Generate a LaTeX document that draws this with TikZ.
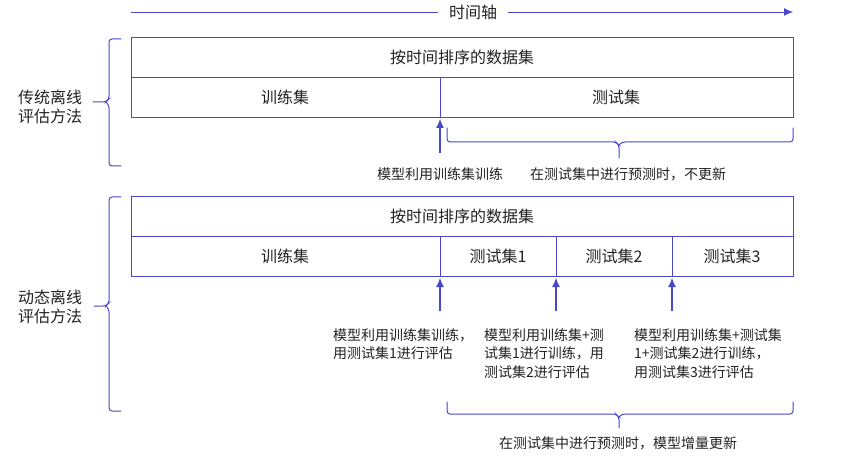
\documentclass[tikz,border=0pt]{standalone}
\usepackage{fontspec}
\setmainfont{Noto Sans CJK SC}
\usetikzlibrary{arrows.meta}
\definecolor{lineblue}{RGB}{72,72,200}
\definecolor{txt}{RGB}{34,34,34}
\begin{document}
\begin{tikzpicture}[x=1pt,y=-1pt,
  frame/.style={draw=lineblue, line width=0.9pt},
  cell/.style={text=txt, font=\fontsize{16}{19}\selectfont},
  note/.style={text=txt, font=\fontsize{14}{18.5}\selectfont, align=left, inner sep=0pt},
  up/.style={lineblue, line width=1.1pt, -{Latex[length=9pt,width=8pt]}},
  curly/.style={lineblue, line width=1pt, line cap=round, rounded corners=3pt}]
\useasboundingbox (0,0) rectangle (851,457);
% time axis
\node[cell, inner xsep=11pt] (axis) at (473,12) {时间轴};
\coordinate (axstart) at (131,12);
\coordinate (axend) at (793,12);
\draw[lineblue, line width=0.9pt] (axstart) -- (axis.west);
\draw[up, line width=0.9pt] (axis.east) -- (axend);
% traditional offline evaluation
\draw[frame] (131,37) rectangle (793,117);
\draw[frame] (131,77) -- (793,77);
\draw[frame] (440,77) -- (440,117);
\node[cell] (data1) at (462,57) {按时间排序的数据集};
\node[cell] (train1) at (285,97) {训练集};
\node[cell] (test1) at (616,97) {测试集};
\draw[curly] (121,39) -- (109,39) -- (109,99) -- (106,102) -- (93,102);
\draw[curly] (121,166) -- (109,166) -- (109,105) -- (106,102);
\node[cell, align=center] (method1) at (50,107) {传统离线\\评估方法};
\coordinate (tip1) at (440,119);
\coordinate (foot1) at (440,153);
\draw[up] (foot1) -- (tip1);
\draw[curly] (447,128) -- (447,142) -- (616,142) -- (619,145) -- (619,158);
\draw[curly] (793,128) -- (793,142) -- (622,142) -- (619,145);
\node[note] (fit1) at (440,174) {模型利用训练集训练};
\node[note] (pred1) at (628,174) {在测试集中进行预测时，不更新};
% dynamic offline evaluation
\draw[frame] (131,196) rectangle (793,276);
\draw[frame] (131,236) -- (793,236);
\foreach \x in {440,556,672} \draw[frame] (\x,236) -- (\x,276);
\node[cell] (data2) at (462,216) {按时间排序的数据集};
\node[cell] (train2) at (285,256) {训练集};
\node[cell] (testa) at (498,256) {测试集1};
\node[cell] (testb) at (614,256) {测试集2};
\node[cell] (testc) at (732,256) {测试集3};
\draw[curly] (121,197) -- (109,197) -- (109,303) -- (106,306) -- (94,306);
\draw[curly] (121,411) -- (109,411) -- (109,309) -- (106,306);
\node[cell, align=center] (method2) at (50,307) {动态离线\\评估方法};
\foreach \x/\n in {440/a,556/b,672/c} {
  \coordinate (tip\n) at (\x,278);
  \coordinate (foot\n) at (\x,311);
  \draw[up] (foot\n) -- (tip\n);
}
\node[note, anchor=north west] (fita) at (333,328) {模型利用训练集训练，\\用测试集1进行评估};
\node[note, anchor=north west] (fitb) at (484,328) {模型利用训练集+测\\试集1进行训练，用\\测试集2进行评估};
\node[note, anchor=north west] (fitc) at (634,328) {模型利用训练集+测试集\\1+测试集2进行训练，\\用测试集3进行评估};
\draw[curly] (447,402) -- (447,414) -- (616,414) -- (619,417) -- (619,428);
\draw[curly] (793,402) -- (793,414) -- (622,414) -- (619,417);
\node[note] (pred2) at (618,443) {在测试集中进行预测时，模型增量更新};
\end{tikzpicture}
\end{document}
